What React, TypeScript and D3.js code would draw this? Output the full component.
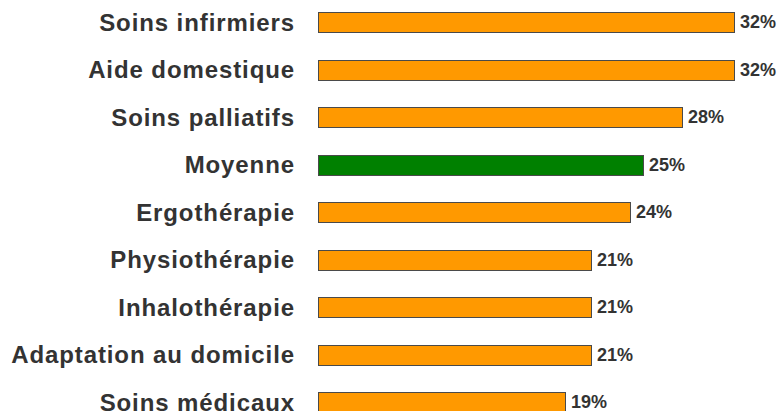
import React from "react";
import * as d3 from "d3";

const categories = [
  "Soins infirmiers",
  "Aide domestique",
  "Soins palliatifs",
  "Moyenne",
  "Ergothérapie",
  "Physiothérapie",
  "Inhalothérapie",
  "Adaptation au domicile",
  "Soins médicaux",
];
const values = [32, 32, 28, 25, 24, 21, 21, 21, 19];
const highlight = "Moyenne";

const W = 781;
const H = 411;

export default function App() {
  const x = d3.scaleLinear().domain([0, 35]).range([318, 318 + 13 * 35]);
  const y = d3
    .scalePoint<string>()
    .domain(categories)
    .range([22, 22 + 8 * 47.5]);
  const barH = 20;

  return (
    <div style={{ position: "fixed", left: 0, top: 0 }}>
      <svg width={W} height={H} style={{ display: "block", background: "#fff" }}>
        {categories.map((c, i) => {
          const cy = y(c) as number;
          const v = values[i];
          return (
            <g key={c}>
              <text
                x={295}
                y={cy}
                dy="0.36em"
                textAnchor="end"
                fontFamily="'Liberation Sans', Arial, sans-serif"
                fontWeight="bold"
                fontSize={24}
                letterSpacing={0.9}
                fill="#333333"
              >
                {c}
              </text>
              <rect
                x={Math.round(x(0)) + 0.5}
                y={Math.round(cy - barH / 2) + 0.5}
                width={Math.round(x(v) - x(0))}
                height={barH}
                fill={c === highlight ? "#008000" : "#FF9900"}
                stroke="#4a4a4a"
                strokeWidth={1}
              />
              <text
                x={x(v) + 6}
                y={cy}
                dy="0.36em"
                fontFamily="'Liberation Sans', Arial, sans-serif"
                fontWeight="bold"
                fontSize={18}
                fill="#333333"
              >
                {`${v}%`}
              </text>
            </g>
          );
        })}
      </svg>
    </div>
  );
}
